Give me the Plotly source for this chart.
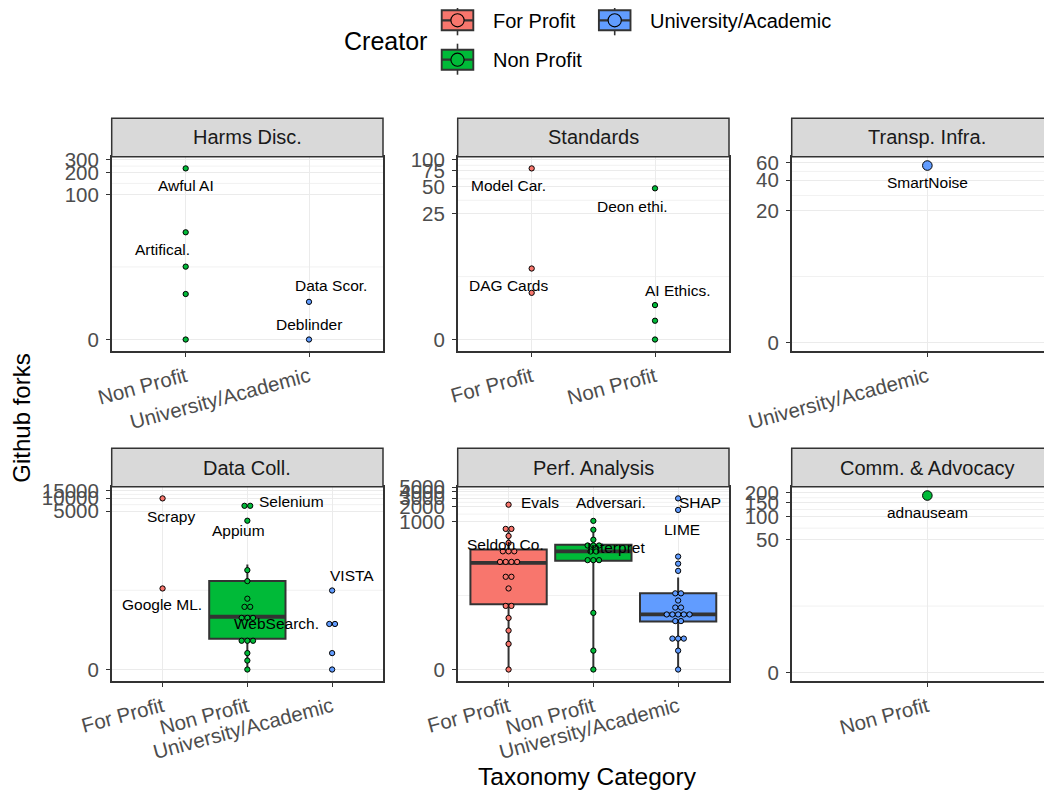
import numpy as np
import plotly.graph_objects as go

# ---------------- data ----------------
facet_names = ["Harms Disc.", "Standards", "Transp. Infra.",
               "Data Coll.", "Perf. Analysis", "Comm. & Advocacy"]
creator_names = ["For Profit", "Non Profit", "University/Academic"]

# Github forks per tool, by facet and creator
harms_np = [228, 30, 10, 4, 0]
harms_ua = [3, 0]
standards_fp = [80, 6, 3]
standards_np = [48, 2, 1, 0]
transp_ua = [56]
datacoll_fp = [9900, 78]
datacoll_np = [6800, 6500, 2980, 209, 116, 45, 29, 29, 17, 16, 15, 5, 5, 4, 2, 1, 0]
datacoll_ua = [70, 12, 11, 2, 0]
perf_fp = [2200, 720, 700, 510, 369, 270, 250, 230, 165, 155, 145, 140, 80, 72, 44, 21, 18, 11, 6, 3, 0]
perf_np = [1033, 681, 428, 340, 330, 315, 255, 240, 170, 165, 160, 14, 2, 0]
perf_ua = [2950, 1720, 195, 140, 100, 35, 35, 25, 18, 18, 13, 13, 13, 13, 13, 10, 9, 4, 4, 4, 2, 0]
comm_np = [185]

# tool names (aligned with the first entries of the lists above, "" = no label)
harms_np_labels = ["Awful AI", "Artifical."]
harms_ua_labels = ["Data Scor.", "Deblinder"]
standards_fp_labels = ["Model Car.", "DAG Cards"]
standards_np_labels = ["Deon ethi.", "AI Ethics."]
transp_ua_labels = ["SmartNoise"]
datacoll_fp_labels = ["Scrapy", "Google ML."]
datacoll_np_labels = ["Selenium", "", "Appium"]
datacoll_ua_labels = ["VISTA", "WebSearch."]
perf_fp_labels = ["Evals", "Seldon Co."]
perf_np_labels = ["Adversari.", "Interpret"]
perf_ua_labels = ["SHAP", "LIME"]
comm_np_labels = ["adnauseam"]

# y tick labels per facet
harms_ticks = [0, 100, 200, 300]
standards_ticks = [0, 25, 50, 75, 100]
transp_ticks = [0, 20, 40, 60]
datacoll_ticks = [0, 5000, 10000, 15000]
perf_ticks = [0, 1000, 2000, 3000, 4000, 5000]
comm_ticks = [0, 50, 100, 150, 200]

panels = [
    {"Non Profit": (harms_np, harms_np_labels), "University/Academic": (harms_ua, harms_ua_labels)},
    {"For Profit": (standards_fp, standards_fp_labels), "Non Profit": (standards_np, standards_np_labels)},
    {"University/Academic": (transp_ua, transp_ua_labels)},
    {"For Profit": (datacoll_fp, datacoll_fp_labels), "Non Profit": (datacoll_np, datacoll_np_labels),
     "University/Academic": (datacoll_ua, datacoll_ua_labels)},
    {"For Profit": (perf_fp, perf_fp_labels), "Non Profit": (perf_np, perf_np_labels),
     "University/Academic": (perf_ua, perf_ua_labels)},
    {"Non Profit": (comm_np, comm_np_labels)},
]
panel_ticks = [harms_ticks, standards_ticks, transp_ticks, datacoll_ticks, perf_ticks, comm_ticks]

# ---------------- style ----------------
COLORS = {"For Profit": "#F8766D", "Non Profit": "#00BA38", "University/Academic": "#619CFF"}
FONT = "Liberation Sans, Arial, Helvetica, sans-serif"
W, H = 1052, 795
OFF = 8  # page body margin offset
COL_LEFT = [111.7, 457.7, 791.7]
PANEL_W = 271.3
ROW_TOP = [156.7, 486.7]
PANEL_H = 194.5
STRIP_H = 38.4
GRID = "#EBEBEB"
DARK = "#333333"
TICK_SIZE = 20.5
LABEL_OFFSETS = {  # (dx, dy) in px, dy downward
    "Awful AI": (0, 17), "Artifical.": (-23, 17), "Data Scor.": (22, -16), "Deblinder": (0, -15),
    "Model Car.": (-23, 17), "DAG Cards": (-23, 17), "Deon ethi.": (-23, 18), "AI Ethics.": (22, -15),
    "SmartNoise": (0, 17), "Scrapy": (8, 18), "Google ML.": (-1, 16), "Selenium": (44, -4),
    "Appium": (-9, 10), "VISTA": (20, -15), "WebSearch.": (-56, 0), "Evals": (31, -2),
    "Seldon Co.": (-3, 16), "Adversari.": (18, -18), "Interpret": (23, 18), "SHAP": (22, 4),
    "LIME": (4, 20), "adnauseam": (0, 17)}


def fx(px):
    return (px - OFF) / W


def fy(py):
    return 1 - (py - OFF) / H


def tr(v):
    """pseudo-log (sigma = 1, base 10) transform"""
    return np.arcsinh(np.asarray(v, dtype=float) / 2.0) / np.log(10)


def densitybin(t, bw):
    order = np.argsort(t, kind="stable")
    bins, binend = [], -np.inf
    for idx in order:
        if t[idx] >= binend:
            binend = t[idx] + bw
            bins.append([])
        bins[-1].append(idx)
    centers = [(t[b].min() + t[b].max()) / 2 for b in bins]
    return bins, centers


def minor_breaks(b, lim):
    b = list(b)
    bd = b[1] - b[0]
    if lim[0] < b[0]:
        b = [b[0] - bd] + b
    if lim[1] > b[-1]:
        b = b + [b[-1] + bd]
    mids = [(b[k] + b[k + 1]) / 2 for k in range(len(b) - 1)]
    return [m for m in mids if lim[0] <= m <= lim[1]]


fig = go.Figure()
shapes, annotations = [], []
layout_axes = {}

for i, groups in enumerate(panels):
    r, c = divmod(i, 3)
    n_ax = i + 1
    xs = "x" if n_ax == 1 else f"x{n_ax}"
    ys = "y" if n_ax == 1 else f"y{n_ax}"
    cats = [cn for cn in creator_names if cn in groups]
    ncat = len(cats)
    all_t = np.concatenate([tr(groups[cn][0]) for cn in cats])
    single = len(all_t) == 1
    bw = (all_t.max() - all_t.min()) / 30 if not single else 0.0

    binned = {}
    lo, hi = np.inf, -np.inf
    for cn in cats:
        t = tr(groups[cn][0])
        bins, centers = densitybin(t, bw if bw > 0 else 1e-9)
        binned[cn] = (t, bins, centers)
        lo = min(lo, min(centers) - bw / 2)
        hi = max(hi, max(centers) + bw / 2)
    if single:
        lo, hi = 0.0, float(all_t.max())
    d = hi - lo
    y0, y1 = lo - 0.05 * d, hi + 0.05 * d
    px_per_y = PANEL_H / (y1 - y0)
    dot_px = 10.0 if single else bw * px_per_y

    left = COL_LEFT[c]
    right_vis = min(left + PANEL_W, W + 1)
    x0 = -0.6
    x1_full = ncat - 1 + 0.6
    px_per_x = PANEL_W / (x1_full - x0)
    x1 = x0 + (right_vis - left) / px_per_x
    top = ROW_TOP[r]

    # boxplots (only for larger groups)
    for k, cn in enumerate(cats):
        vals = np.asarray(groups[cn][0], dtype=float)
        if len(vals) < 10:
            continue
        q1, med, q3 = np.percentile(vals, [25, 50, 75])
        iqr = q3 - q1
        up = min(q3 + 1.5 * iqr, vals.max())
        low = max(q1 - 1.5 * iqr, vals.min())
        fig.add_trace(go.Box(
            x=[k], q1=[tr(q1)], median=[tr(med)], q3=[tr(q3)],
            lowerfence=[tr(low)], upperfence=[tr(up)], width=0.9,
            fillcolor=COLORS[cn], line=dict(color=DARK, width=2.0), whiskerwidth=0,
            boxpoints=False, showlegend=False, hoverinfo="skip", xaxis=xs, yaxis=ys))
        fig.add_trace(go.Scatter(
            x=[k - 0.45, k + 0.45], y=[tr(med)] * 2, mode="lines",
            line=dict(color=DARK, width=3.8), showlegend=False, hoverinfo="skip",
            xaxis=xs, yaxis=ys))

    # dots (dotplot, stacked centred)
    for k, cn in enumerate(cats):
        t, bins, centers = binned[cn]
        px_, py_ = [], []
        for b, cen in zip(bins, centers):
            m = len(b)
            for j in range(m):
                px_.append(k + (j - (m - 1) / 2) * dot_px / px_per_x)
                py_.append(cen)
        fig.add_trace(go.Scatter(
            x=px_, y=py_, mode="markers",
            marker=dict(size=dot_px - 0.4, color=COLORS[cn], line=dict(color="black", width=1)),
            showlegend=False, hoverinfo="skip", xaxis=xs, yaxis=ys))
        # labels
        labels = groups[cn][1]
        for vi, txt in enumerate(labels):
            if not txt:
                continue
            bi = [bn for bn, b in enumerate(bins) if vi in b][0]
            dx, dy = LABEL_OFFSETS[txt]
            annotations.append(dict(
                x=k, y=centers[bi], xref=xs, yref=ys, text=txt, showarrow=False,
                xshift=dx, yshift=-dy, font=dict(family=FONT, size=15.5, color="black"),
                xanchor="center", yanchor="middle"))

    # axes
    ticks = panel_ticks[i]
    tick_t = [float(tr(v)) for v in ticks]
    ax_suffix = "" if n_ax == 1 else str(n_ax)
    layout_axes["xaxis" + ax_suffix] = dict(
        domain=[fx(left), fx(right_vis)], anchor=ys, range=[x0, x1], automargin=False,
        tickvals=list(range(ncat)), ticktext=cats, tickangle=-15,
        ticks="outside", ticklen=4, tickcolor=DARK, tickwidth=1.2,
        tickfont=dict(family=FONT, size=TICK_SIZE, color="#4D4D4D"),
        showgrid=True, gridcolor=GRID, gridwidth=1.3, zeroline=False,
        showline=True, linecolor=DARK, linewidth=1.5, mirror=True, fixedrange=True)
    layout_axes["yaxis" + ax_suffix] = dict(
        domain=[fy(top + PANEL_H), fy(top)], anchor=xs, range=[y0, y1], automargin=False,
        tickvals=tick_t, ticktext=[str(v) for v in ticks],
        ticks="outside", ticklen=4, tickcolor=DARK, tickwidth=1.2,
        tickfont=dict(family=FONT, size=TICK_SIZE, color="#4D4D4D"), ticklabelstandoff=3,
        showgrid=True, gridcolor=GRID, gridwidth=1.3, zeroline=False,
        showline=True, linecolor=DARK, linewidth=1.5, mirror=(c != 2), fixedrange=True)

    # minor grid lines
    for mb in minor_breaks(tick_t, (y0, y1)):
        shapes.append(dict(type="line", xref=xs + " domain", yref=ys, x0=0, x1=1, y0=mb, y1=mb,
                           line=dict(color=GRID, width=0.7), layer="below"))
    # strip
    shapes.append(dict(type="rect", xref="paper", yref="paper",
                       x0=fx(left), x1=fx(left + PANEL_W),
                       y0=fy(top), y1=fy(top - STRIP_H),
                       fillcolor="#D9D9D9", line=dict(color=DARK, width=1.5), layer="above"))
    annotations.append(dict(x=fx(left + PANEL_W / 2), y=fy(top - STRIP_H / 2),
                            xref="paper", yref="paper", text=facet_names[i], showarrow=False,
                            font=dict(family=FONT, size=20, color="#1A1A1A"),
                            xanchor="center", yanchor="middle"))

# axis titles
annotations.append(dict(x=fx(22), y=fy(418.7), xref="paper", yref="paper", text="Github forks",
                        textangle=-90, showarrow=False, font=dict(family=FONT, size=24, color="black"),
                        xanchor="center", yanchor="middle"))
annotations.append(dict(x=fx(587), y=fy(776), xref="paper", yref="paper", text="Taxonomy Category",
                        showarrow=False, font=dict(family=FONT, size=24.5, color="black"),
                        xanchor="center", yanchor="middle"))

# manual legend (boxplot + dot key glyphs)
annotations.append(dict(x=fx(341.5), y=fy(41), xref="paper", yref="paper", text="Creator",
                        showarrow=False, font=dict(family=FONT, size=25, color="black"),
                        xanchor="left", yanchor="middle"))
legend_pos = {"For Profit": (457.5, 20.3), "Non Profit": (457.5, 59.7), "University/Academic": (614.7, 20.3)}

for cn in creator_names:
    cx, cy = legend_pos[cn]
    shapes.append(dict(type="line", xref="paper", yref="paper", x0=fx(cx), x1=fx(cx),
                       y0=fy(cy - 16), y1=fy(cy + 15),
                       line=dict(color=DARK, width=1.6), layer="above"))
    shapes.append(dict(type="rect", xref="paper", yref="paper", x0=fx(cx - 15.8), x1=fx(cx + 15.8),
                       y0=fy(cy + 10), y1=fy(cy - 10),
                       fillcolor=COLORS[cn], line=dict(color=DARK, width=1.9), layer="above"))
    shapes.append(dict(type="line", xref="paper", yref="paper", x0=fx(cx - 15.8), x1=fx(cx + 15.8),
                       y0=fy(cy), y1=fy(cy), line=dict(color=DARK, width=2.2), layer="above"))
    shapes.append(dict(type="circle", xref="paper", yref="paper", x0=fx(cx - 6.6), x1=fx(cx + 6.6),
                       y0=fy(cy + 6.6), y1=fy(cy - 6.6),
                       fillcolor=COLORS[cn], line=dict(color="black", width=1.1), layer="above"))
    annotations.append(dict(x=fx(cx + 33), y=fy(cy + 0.4), xref="paper", yref="paper", text=cn,
                            showarrow=False, font=dict(family=FONT, size=20, color="black"),
                            xanchor="left", yanchor="middle"))

fig.update_layout(
    template="none",
    width=W, height=H, autosize=False,
    margin=dict(l=0, r=0, t=0, b=0, pad=0),
    paper_bgcolor="white", plot_bgcolor="white",
    showlegend=False, shapes=shapes, annotations=annotations,
    font=dict(family=FONT), hovermode=False,
    **layout_axes)

fig.write_html("out.html")
